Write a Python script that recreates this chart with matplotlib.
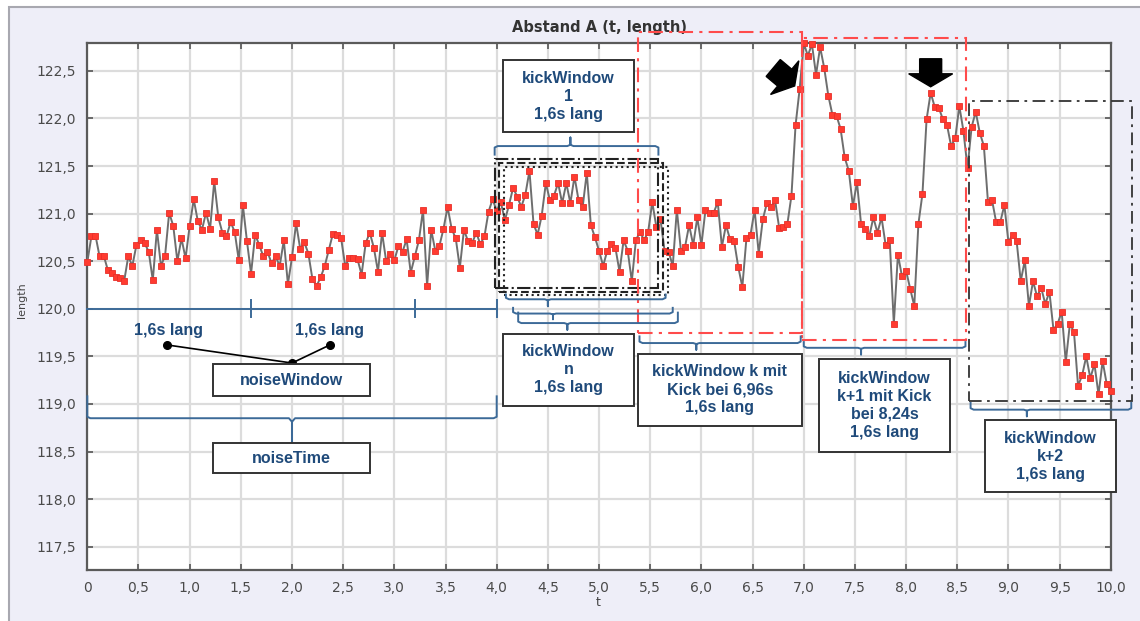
import numpy as np
import matplotlib
matplotlib.use("Agg")
import matplotlib.pyplot as plt
from matplotlib.patches import Rectangle, Polygon
from matplotlib.lines import Line2D
import matplotlib.transforms as mtransforms

# ---------------- data ----------------
dt = 0.04
length = [
    120.49, 120.76, 120.77, 120.55, 120.56, 120.41, 120.38, 120.33, 120.32, 120.29,
    120.55, 120.45, 120.67, 120.72, 120.69, 120.60, 120.30, 120.83, 120.45, 120.56,
    121.01, 120.87, 120.50, 120.74, 120.53, 120.87, 121.15, 120.92, 120.83, 121.01,
    120.84, 121.34, 120.96, 120.80, 120.76, 120.91, 120.81, 120.51, 121.09, 120.71,
    120.37, 120.78, 120.67, 120.55, 120.60, 120.48, 120.55, 120.45, 120.72, 120.26,
    120.54, 120.90, 120.63, 120.70, 120.58, 120.31, 120.24, 120.33, 120.45, 120.62,
    120.79, 120.78, 120.74, 120.45, 120.53, 120.53, 120.52, 120.36, 120.69, 120.80,
    120.64, 120.39, 120.80, 120.50, 120.58, 120.51, 120.66, 120.60, 120.73, 120.38,
    120.55, 120.72, 121.04, 120.24, 120.83, 120.61, 120.66, 120.84, 121.07, 120.84,
    120.74, 120.43, 120.83, 120.71, 120.69, 120.80, 120.68, 120.76, 121.02, 121.15,
    121.03, 121.12, 120.93, 121.09, 121.27, 121.18, 121.07, 121.20, 121.45, 120.89,
    120.78, 120.98, 121.32, 121.14, 121.19, 121.32, 121.11, 121.32, 121.11, 121.39,
    121.14, 121.07, 121.43, 120.88, 120.75, 120.61, 120.45, 120.61, 120.68, 120.64,
    120.39, 120.72, 120.61, 120.29, 120.72, 120.81, 120.72, 120.81, 121.12, 120.86,
    120.94, 120.61, 120.60, 120.45, 121.04, 120.61, 120.65, 120.88, 120.67, 120.96,
    120.67, 121.04, 121.01, 121.01, 121.12, 120.65, 120.88, 120.73, 120.71, 120.44,
    120.23, 120.74, 120.78, 121.04, 120.58, 120.94, 121.11, 121.07, 121.14, 120.85,
    120.86, 120.89, 121.19, 121.93, 122.31, 122.79, 122.66, 122.78, 122.46, 122.75,
    122.53, 122.24, 122.04, 122.03, 121.89, 121.59, 121.45, 121.08, 121.33, 120.89,
    120.84, 120.76, 120.96, 120.80, 120.96, 120.67, 120.72, 119.84, 120.57, 120.34,
    120.40, 120.21, 120.03, 120.89, 121.21, 121.99, 122.27, 122.12, 122.11, 121.99,
    121.93, 121.71, 121.79, 122.13, 121.87, 121.48, 121.91, 122.07, 121.85, 121.71,
    121.12, 121.14, 120.91, 120.91, 121.09, 120.70, 120.78, 120.71, 120.29, 120.51,
    120.03, 120.29, 120.13, 120.22, 120.05, 120.18, 119.78, 119.84, 119.97, 119.44,
    119.84, 119.76, 119.19, 119.30, 119.50, 119.27, 119.42, 119.10, 119.45, 119.21,
    119.14,
]
t = [round(i * dt, 2) for i in range(len(length))]

x_ticks = [0, 0.5, 1.0, 1.5, 2.0, 2.5, 3.0, 3.5, 4.0, 4.5, 5.0, 5.5, 6.0, 6.5, 7.0,
           7.5, 8.0, 8.5, 9.0, 9.5, 10.0]
x_ticklabels = ["0", "0,5", "1,0", "1,5", "2,0", "2,5", "3,0", "3,5", "4,0", "4,5",
                "5,0", "5,5", "6,0", "6,5", "7,0", "7,5", "8,0", "8,5", "9,0", "9,5", "10,0"]
y_ticks = [117.5, 118.0, 118.5, 119.0, 119.5, 120.0, 120.5, 121.0, 121.5, 122.0, 122.5]
y_ticklabels = ["117,5", "118,0", "118,5", "119,0", "119,5", "120,0", "120,5",
                "121,0", "121,5", "122,0", "122,5"]

title = "Abstand A (t, length)"
kick_times = [6.96, 8.24]

# ---------------- figure ----------------
W, H = 1140, 621
fig = plt.figure(figsize=(W / 100, H / 100), dpi=100)
fig.patch.set_facecolor("white")
bg = Rectangle((9 / W, -0.05), 1.2, 1 - 7 / H + 0.05, transform=fig.transFigure,
               facecolor="#EEEEF8", edgecolor="#A8A8B0", lw=1.5, zorder=-10)
fig.patches.append(bg)

ax = fig.add_axes([87.3 / W, 1 - 570 / H, (1110.8 - 87.3) / W, (570 - 43.3) / H])
ax.set_zorder(1)
ax.set_facecolor("white")
ax.set_xlim(0, 10)
ax.set_ylim(117.255, 122.79)
ax.set_xticks(x_ticks)
ax.set_xticklabels(x_ticklabels)
ax.set_yticks(y_ticks)
ax.set_yticklabels(y_ticklabels)
ax.grid(True, color="#DCDCDC", lw=1.6)
ax.set_axisbelow(True)
ax.tick_params(direction="in", length=4, width=1.2, color="#555555",
               top=True, right=True, labelsize=10, labelcolor="#4A4A4A", pad=8)
for s in ax.spines.values():
    s.set_color("#5A5A5A")
    s.set_linewidth(1.6)

ax.set_title(title, fontsize=10.5, fontweight="bold", color="#333333", pad=8)
fig.text(598 / W, 1 - 602 / H, "t", fontsize=9, color="#444444", ha="center", va="center")
fig.text(22 / W, 1 - 300 / H, "length", fontsize=8, color="#444444", ha="center",
         va="center", rotation=90)

ax.plot(t, length, color="#6E6E6E", lw=1.4, zorder=3, marker="s", ms=4.0,
        mfc="#FF3B30", mec="#E8302A", mew=0.6, clip_on=False)

BLUE_L = "#3C6A98"
BLUE_T = "#1F4A7A"
AFONT = dict(family="Liberation Sans", fontweight="bold", color=BLUE_T,
             fontsize=11.5, ha="center", va="center", linespacing=1.25)


def line(xs, ys, **kw):
    kw.setdefault("color", BLUE_L)
    kw.setdefault("lw", 1.4)
    ax.add_line(Line2D(xs, ys, clip_on=False, zorder=5, **kw))


def brace(x0, x1, y, he, xc, hn, r=0.03):
    # ends go to y+he, nub at xc goes to y+hn
    s = np.sign(he)
    xs = [x0, x0, x0 + r, xc - r, xc, xc, xc, xc + r, x1 - r, x1, x1]
    ys = [y + he, y + 0.015 * s, y, y, y + 0.15 * hn, y + hn, y + 0.15 * hn, y, y,
          y + 0.015 * s, y + he]
    line(xs, ys)


def box(x0, x1, y0, y1, text, **tkw):
    ax.add_patch(Rectangle((x0, y0), x1 - x0, y1 - y0, facecolor="white",
                           edgecolor="#333333", lw=1.4, zorder=6, clip_on=False))
    kw = dict(AFONT)
    kw.update(tkw)
    ax.text((x0 + x1) / 2, (y0 + y1) / 2, text, zorder=7, **kw)


# noise measuring line
line([0, 4.0], [120.0, 120.0])
for xx in [1.6, 3.2, 4.0]:
    line([xx, xx], [120.09, 119.91])

# noise windows
ax.text(0.79, 119.77, "1,6s lang", zorder=7, **AFONT)
ax.text(2.37, 119.77, "1,6s lang", zorder=7, **AFONT)
line([0.78, 2.0, 2.37], [119.62, 119.43, 119.62], color="black", lw=1.2, marker="o", ms=5.5)
box(1.225, 2.76, 119.08, 119.42, "noiseWindow")

# noiseTime brace + box
brace(0.0, 4.0, 118.85, 0.23, 2.0, -0.25)
box(1.225, 2.76, 118.27, 118.59, "noiseTime")

# kickWindow 1 (above)
box(4.06, 5.34, 121.86, 122.61, "kickWindow\n1\n1,6s lang")
brace(3.98, 5.58, 121.71, -0.09, 4.72, 0.09)

# overlapping window boxes 1..n
win_styles = [("-.", 3.98, 120.22), ("--", 4.02, 120.18), (":", 4.07, 120.14)]
for ls, x0, y0 in win_styles:
    ax.add_patch(Rectangle((x0, y0), 1.6, 1.35, fill=False, edgecolor="#222222",
                           lw=1.5, ls=ls, zorder=4, clip_on=False))

# braces below windows
brace(4.09, 5.65, 120.10, 0.05, 4.5, -0.07)
brace(4.16, 5.72, 119.95, 0.06, 4.55, -0.06)
brace(4.21, 5.77, 119.85, 0.11, 4.69, -0.07)
box(4.06, 5.34, 118.98, 119.74, "kickWindow\nn\n1,6s lang")

# kickWindow k (red)
RED = "#FF4B4B"
ax.add_patch(Rectangle((5.385, 119.75), 1.6, 122.91 - 119.75, fill=False, edgecolor=RED,
                       lw=1.5, ls=(0, (7, 3, 1.5, 3)), zorder=4, clip_on=False))
brace(5.395, 6.97, 119.64, 0.07, 5.95, -0.07)
box(5.38, 6.98, 118.77, 119.53, "kickWindow k mit\nKick bei 6,96s\n1,6s lang")

# kickWindow k+1 (red)
ax.add_patch(Rectangle((6.985, 119.67), 1.6, 122.85 - 119.67, fill=False, edgecolor=RED,
                       lw=1.5, ls=(0, (7, 3, 1.5, 3)), zorder=4, clip_on=False))
brace(7.0, 8.58, 119.59, 0.06, 7.56, -0.07)
box(7.15, 8.43, 118.50, 119.47, "kickWindow\nk+1 mit Kick\nbei 8,24s\n1,6s lang")

# kickWindow k+2 (black dash-dot)
ax.add_patch(Rectangle((8.61, 119.03), 1.6, 122.18 - 119.03, fill=False, edgecolor="#333333",
                       lw=1.3, ls=(0, (7, 3, 1.5, 3)), zorder=4, clip_on=False))
brace(8.63, 10.2, 118.94, 0.07, 9.18, -0.07)
box(8.77, 10.05, 118.07, 118.83, "kickWindow\nk+2\n1,6s lang")

# kick arrows (block arrows, shape in pixels relative to tip)
arrow_px = np.array([(0, 0), (-22, 13), (-11, 13), (-11, 28), (11, 28), (11, 13), (22, 13)], float)


def block_arrow(xd, yd, dx_px, dy_px, angle_deg):
    a = np.deg2rad(angle_deg)
    R = np.array([[np.cos(a), -np.sin(a)], [np.sin(a), np.cos(a)]])
    pts = arrow_px @ R.T
    pts = (pts + np.array([dx_px, dy_px])) / 100.0
    tr = fig.dpi_scale_trans + mtransforms.ScaledTranslation(xd, yd, ax.transData)
    ax.add_patch(Polygon(pts, closed=True, facecolor="black", edgecolor="black",
                         transform=tr, zorder=8, clip_on=False))


k1 = t.index(kick_times[0])
k2 = t.index(kick_times[1])
block_arrow(t[k1], length[k1], -5, 3, 50)
block_arrow(t[k2], length[k2], 0, 6, 0)

fig.savefig("out.png", dpi=100, facecolor=fig.get_facecolor())
